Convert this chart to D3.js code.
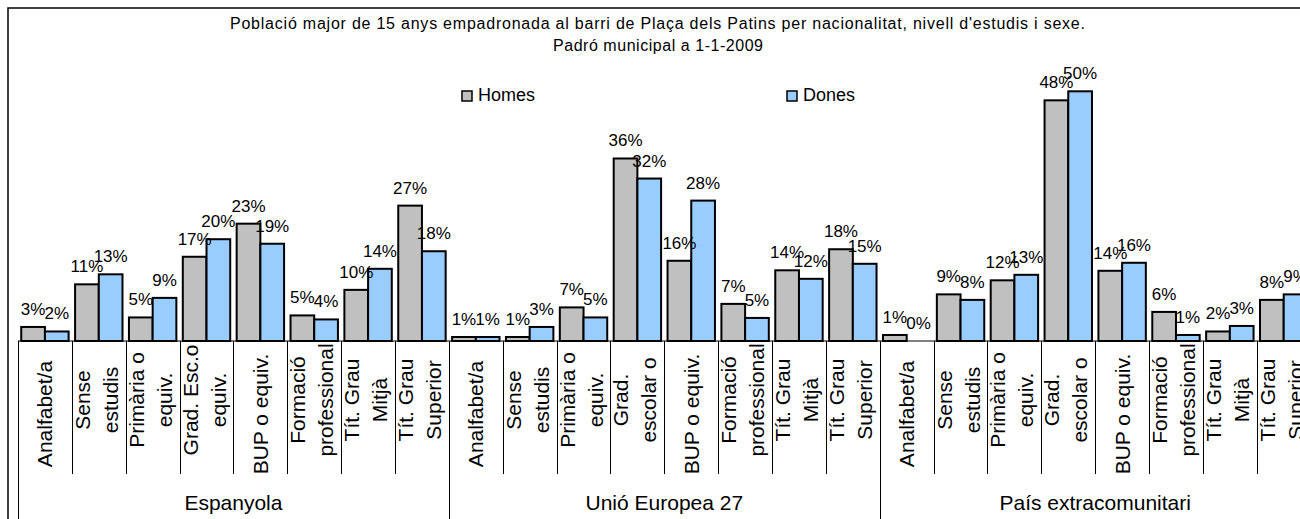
<!DOCTYPE html>
<meta charset="utf-8">
<style>
body { margin: 0; background: #fff; }
svg text { font-family: "Liberation Sans", Arial, sans-serif; fill: #000; }
.bars rect { stroke: #000; stroke-width: 2px; }
</style>
<svg width="1300" height="519"></svg>
<script src="https://cdn.jsdelivr.net/npm/d3@7"></script>
<script>
// groups and education levels
var groups = ["Espanyola", "Unió Europea 27", "País extracomunitari"];
var levelsEsp = [["Analfabet/a"], ["Sense", "estudis"], ["Primària o", "equiv."], ["Grad. Esc.o", "equiv."],
  ["BUP o equiv."], ["Formació", "professional"], ["Tít. Grau", "Mitjà"], ["Tít. Grau", "Superior"]];
var levelsOther = [["Analfabet/a"], ["Sense", "estudis"], ["Primària o", "equiv."], ["Grad.", "escolar o"],
  ["BUP o equiv."], ["Formació", "professional"], ["Tít. Grau", "Mitjà"], ["Tít. Grau", "Superior"]];
var series = ["Homes", "Dones"];

// percentages
var homesEsp = [2.8, 11.3, 4.7, 16.8, 23.4, 5.1, 10.2, 27.0];
var donesEsp = [1.9, 13.3, 8.6, 20.3, 19.4, 4.3, 14.4, 17.9];
var homesUE = [0.8, 0.8, 6.7, 36.4, 16.0, 7.4, 14.1, 18.3];
var donesUE = [0.8, 2.8, 4.7, 32.4, 28.0, 4.6, 12.4, 15.4];
var homesExt = [1.2, 9.3, 12.1, 48.0, 14.0, 5.8, 1.9, 8.2];
var donesExt = [0.0, 8.2, 13.2, 49.8, 15.6, 1.2, 3.0, 9.3];

var svg = d3.select("svg");
var colors = {Homes: "#c0c0c0", Dones: "#99ccff"};

// build the category table
var homesAll = [homesEsp, homesUE, homesExt];
var donesAll = [donesEsp, donesUE, donesExt];
var cats = [];
groups.forEach(function(g, gi) {
  var lv = gi == 0 ? levelsEsp : levelsOther;
  lv.forEach(function(l, i) {
    cats.push({key: gi + "-" + i, group: g, lines: l, Homes: homesAll[gi][i], Dones: donesAll[gi][i]});
  });
});

var baseY = 341;
var x = d3.scaleBand().domain(cats.map(function(d) { return d.key; })).range([18, 18 + 24 * 53.86]);
var x1 = d3.scaleBand().domain(series).range([0, x.bandwidth()]).paddingOuter(0.136);
var y = d3.scaleLinear().domain([0, 50]).range([baseY, 90.3]);

// outer frame
svg.append("rect").attr("x", 8).attr("y", 8).attr("width", 1400).attr("height", 600)
  .attr("fill", "#fff").attr("stroke", "#000").attr("stroke-width", 1.5);

// title
var title = svg.append("g").attr("font-size", "16px").attr("text-anchor", "middle");
title.append("text").attr("x", 657.5).attr("y", 28.5)
  .attr("textLength", 855).attr("lengthAdjust", "spacing")
  .text("Població major de 15 anys empadronada al barri de Plaça dels Patins per nacionalitat, nivell d'estudis i sexe.");
title.append("text").attr("x", 658).attr("y", 51)
  .attr("textLength", 210).attr("lengthAdjust", "spacing")
  .text("Padró municipal a 1-1-2009");

// legend
var legend = svg.append("g").selectAll("g").data(series).enter().append("g")
  .attr("transform", function(d, i) { return "translate(" + (i == 0 ? 462 : 787) + ",91)"; });
legend.append("rect").attr("width", 10).attr("height", 10)
  .attr("fill", function(d) { return colors[d]; }).attr("stroke", "#000").attr("stroke-width", 1.5);
legend.append("text").attr("x", 16).attr("y", 10).attr("font-size", "18px").text(function(d) { return d; });

// bars
var catG = svg.append("g").attr("class", "bars").selectAll("g").data(cats).enter().append("g")
  .attr("transform", function(d) { return "translate(" + x(d.key) + ",0)"; });
catG.selectAll("rect").data(function(d) { return series.map(function(s) { return {s: s, v: d[s]}; }); })
  .enter().append("rect")
  .attr("x", function(d) { return x1(d.s); })
  .attr("width", x1.bandwidth())
  .attr("y", function(d) { return y(d.v); })
  .attr("height", function(d) { return baseY - y(d.v); })
  .attr("fill", function(d) { return colors[d.s]; });

// value labels
var fmt = d3.format(".0f");
catG.selectAll("text.val").data(function(d) { return series.map(function(s) { return {s: s, v: d[s]}; }); })
  .enter().append("text").attr("class", "val")
  .attr("x", function(d) { return x1(d.s) + x1.bandwidth() / 2; })
  .attr("y", function(d) { return y(d.v) - 12; })
  .attr("text-anchor", "middle").attr("font-size", "17px")
  .text(function(d) { return fmt(d.v) + "%"; });

// axis line and ticks
var axis = svg.append("g").attr("stroke", "#000").attr("stroke-width", 1);
axis.append("line").attr("x1", x.range()[0]).attr("x2", x.range()[1]).attr("y1", baseY).attr("y2", baseY);
axis.selectAll("line.tick").data(cats).enter().append("line").attr("class", "tick")
  .attr("x1", function(d) { return Math.round(x(d.key)) + 0.5; })
  .attr("x2", function(d) { return Math.round(x(d.key)) + 0.5; })
  .attr("y1", baseY)
  .attr("y2", function(d, i) { return i % 8 == 0 ? 519 : 474; });
axis.append("line").attr("x1", Math.round(x.range()[1]) + 0.5).attr("x2", Math.round(x.range()[1]) + 0.5)
  .attr("y1", baseY).attr("y2", 519);

// category labels, rotated
catG.each(function(d) {
  var g = d3.select(this);
  var cx = x.bandwidth() / 2;
  var n = d.lines.length;
  var cy = n == 1 ? 414 : 400;
  d.lines.forEach(function(t, i) {
    var bx = n == 1 ? cx + 7.5 : cx + (i == 0 ? -9 : 19);
    g.append("text").attr("transform", "translate(" + bx + "," + cy + ") rotate(-90)")
      .attr("text-anchor", "middle").attr("font-size", "21px").text(t);
  });
});

// group labels
svg.append("g").selectAll("text").data(groups).enter().append("text")
  .attr("x", function(d, i) { return x(i + "-0") + x.step() * 4; })
  .attr("y", 510).attr("text-anchor", "middle").attr("font-size", "21px")
  .text(function(d) { return d; });
</script>
